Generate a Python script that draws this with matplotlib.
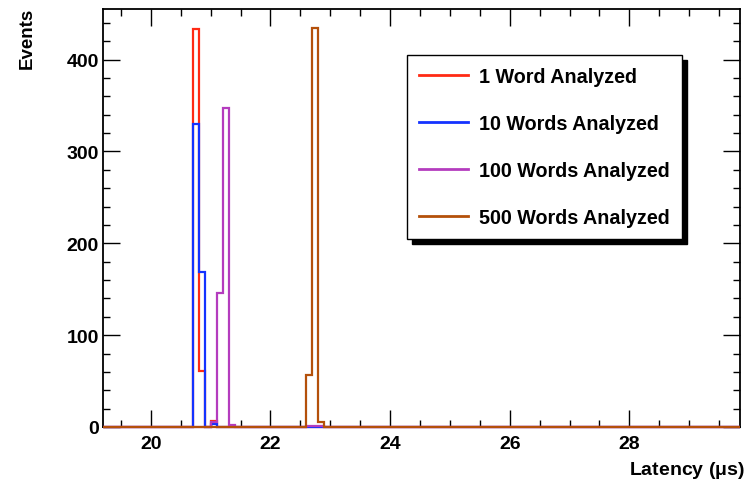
import matplotlib
matplotlib.use('Agg')
import matplotlib.pyplot as plt
from matplotlib.ticker import MultipleLocator
from matplotlib.transforms import Bbox, TransformedBbox
import numpy as np

plt.rcParams['font.family'] = ['Liberation Sans', 'DejaVu Sans']
plt.rcParams['font.weight'] = 'bold'

# latency histograms, 0.1 us bins
bin_lo, bin_hi, bin_w = 19.2, 29.9, 0.1
peak_bins = [20.7, 20.8, 20.9, 21.0, 21.1, 21.2, 21.3, 22.6, 22.7, 22.8]
words_1 = [433, 61, 0, 7, 0, 0, 0, 0, 0, 0]
words_10 = [330, 169, 0, 3, 0, 0, 0, 0, 0, 0]
words_100 = [0, 0, 0, 5, 146, 347, 2, 1, 1, 1]
words_500 = [0, 0, 0, 0, 0, 0, 0, 57, 434, 5]

labels = ['1 Word Analyzed', '10 Words Analyzed',
          '100 Words Analyzed', '500 Words Analyzed']
colors = ['#ff2a14', '#1432ff', '#b43cbe', '#b4500a']

edges = np.round(np.arange(bin_lo, bin_hi + bin_w / 2, bin_w), 2)
centers = np.array(peak_bins) + bin_w / 2

W, H = 748, 481
fig = plt.figure(figsize=(W / 100, H / 100), dpi=100)
# frame in pixels: x 103..740, y 10..428
ax = fig.add_axes([103 / W, (H - 428) / H, 637 / W, 418 / H])

# let the zero line sit fully on top of the bottom frame
clip = TransformedBbox(Bbox([[0, -0.01], [1, 1]]), ax.transAxes)
for counts, lab, col in zip([words_1, words_10, words_100, words_500], labels, colors):
    h, _ = np.histogram(centers, bins=edges, weights=counts)
    st = ax.stairs(h, edges, baseline=0, color=col, lw=1.6, label=lab, zorder=3)
    st.set_clip_box(clip)

ax.set_xlim(19.2, 29.85)
ax.set_ylim(0, 455)

ax.xaxis.set_major_locator(MultipleLocator(2))
ax.xaxis.set_minor_locator(MultipleLocator(0.5))
ax.yaxis.set_major_locator(MultipleLocator(100))
ax.yaxis.set_minor_locator(MultipleLocator(20))
ax.tick_params(which='both', direction='in', top=True, right=True,
               width=1, labelsize=14)
ax.tick_params(axis='x', pad=6)
ax.tick_params(axis='y', pad=3)
ax.tick_params(which='major', length=12)
ax.tick_params(which='minor', length=5)
for s in ax.spines.values():
    s.set_linewidth(1.3)

fig.text(745 / W, 6 / H, 'Latency ($\\mathregular{\\mu}$s)', fontsize=14,
         fontweight='bold', ha='right', va='baseline')
fig.text(27 / W, 1 - 8 / H, 'Events', fontsize=13.5, fontweight='bold',
         rotation=90, ha='center', va='top')

leg = ax.legend(loc='upper left', bbox_to_anchor=((407 - 103) / 637, 1 - (56 - 10) / 418),
                fontsize=14.2, frameon=True, fancybox=False,
                shadow={'color': 'black', 'alpha': 1, 'ox': 3.6, 'oy': -3.6},
                handlelength=2.5, handletextpad=0.56, labelspacing=1.42,
                borderpad=0.6, borderaxespad=0)
leg.get_frame().set_edgecolor('black')
leg.get_frame().set_linewidth(1)
for t in leg.get_texts():
    t.set_fontweight('bold')
for l in leg.get_lines():
    l.set_linewidth(2)

fig.savefig('out.png', dpi=100)
